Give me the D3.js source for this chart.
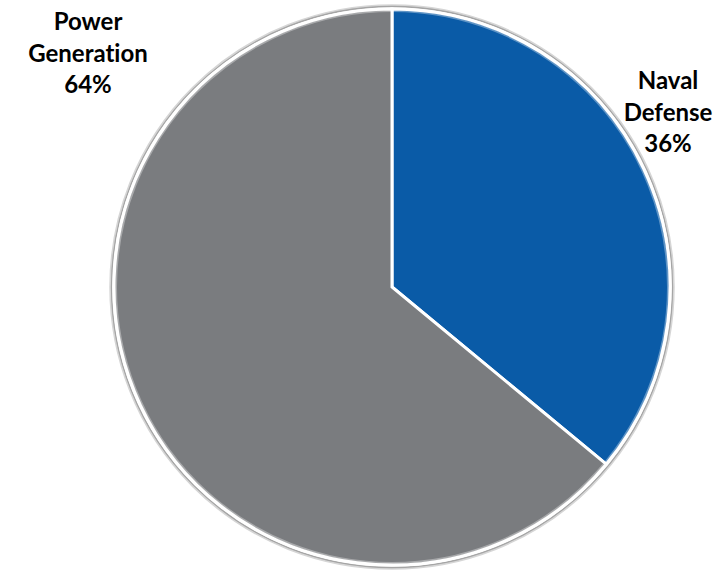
<!DOCTYPE html>
<html>
<head>
<meta charset="utf-8">
<script src="https://cdn.jsdelivr.net/npm/d3@7"></script>
<style>
  html, body { margin: 0; padding: 0; background: #ffffff; }
  svg { display: block; }
  .lbl { font-family: Lato, "Open Sans", sans-serif; font-weight: 700; font-size: 24px; fill: #000000;
         font-variant-ligatures: none; font-feature-settings: "liga" 0, "clig" 0; }
</style>
</head>
<body>
<script>
// Market share by segment
const categories = ["Naval Defense", "Power Generation"];
const shares = [36, 64];
const labelLines = [["Naval", "Defense"], ["Power", "Generation"]];
const sliceColors = ["#0a5ba7", "#7a7c7f"];

const width = 725, height = 571;
const cx = 392, cy = 287, radius = 278;

const svg = d3.select("body").append("svg")
  .attr("width", width)
  .attr("height", height);

const data = categories.map((c, i) => ({ name: c, value: shares[i], lines: labelLines[i], color: sliceColors[i] }));

const pie = d3.pie().sort(null).value(d => d.value).startAngle(0).endAngle(2 * Math.PI);
const arc = d3.arc().innerRadius(0).outerRadius(radius);

const g = svg.append("g").attr("transform", `translate(${cx},${cy})`);

// outer bevel rim
g.append("circle").attr("r", radius + 3.5).attr("fill", "none")
  .attr("stroke", "#d6d6d6").attr("stroke-width", 2.5);
g.append("circle").attr("r", radius + 2.5).attr("fill", "none")
  .attr("stroke", "#a5a5a5").attr("stroke-width", 1.3);

// slices
g.selectAll("path.slice")
  .data(pie(data))
  .join("path")
  .attr("class", "slice")
  .attr("d", arc)
  .attr("fill", d => d.data.color)
  .attr("stroke", "#ffffff")
  .attr("stroke-width", 3)
  .attr("stroke-linejoin", "miter");

// soft inner highlight along the edge
g.append("circle").attr("r", radius - 2).attr("fill", "none")
  .attr("stroke", "rgba(255,255,255,0.35)").attr("stroke-width", 2);

// category labels
const labelPos = [
  { x: 668, y: 89 },
  { x: 88, y: 30 }
];
const lineGap = 31.5;

data.forEach((d, i) => {
  const t = svg.append("text")
    .attr("class", "lbl")
    .attr("text-anchor", "middle")
    .attr("x", labelPos[i].x)
    .attr("y", labelPos[i].y);
  const lines = d.lines.concat([d.value + "%"]);
  lines.forEach((ln, j) => {
    t.append("tspan")
      .attr("x", labelPos[i].x)
      .attr("dy", j === 0 ? 0 : lineGap)
      .text(ln);
  });
});
</script>
</body>
</html>
